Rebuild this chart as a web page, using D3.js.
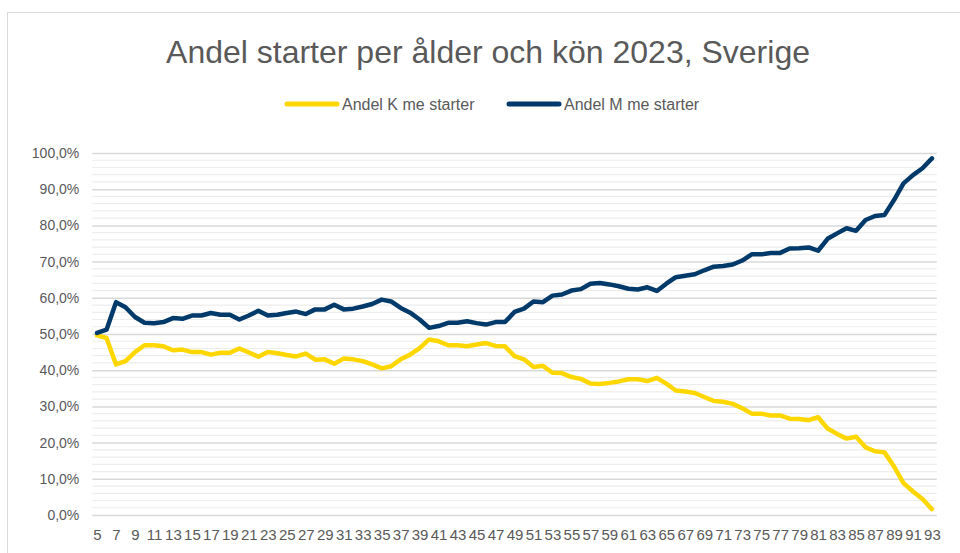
<!DOCTYPE html>
<html>
<head>
<meta charset="utf-8">
<script src="https://cdn.jsdelivr.net/npm/d3@7"></script>
<style>
  html, body { margin: 0; padding: 0; background: #fff; }
  svg { display: block; font-family: "Liberation Sans", Arial, sans-serif; }
</style>
</head>
<body>
<svg id="chart" width="960" height="553"></svg>
<script>
// ---- Data ----
const ages = [5,6,7,8,9,10,11,12,13,14,15,16,17,18,19,20,21,22,23,24,25,26,27,28,29,30,31,32,33,34,35,36,37,38,39,40,41,42,43,44,45,46,47,48,49,50,51,52,53,54,55,56,57,58,59,60,61,62,63,64,65,66,67,68,69,70,71,72,73,74,75,76,77,78,79,80,81,82,83,84,85,86,87,88,89,90,91,92,93];

const andelK = [49.6,48.9,41.6,42.5,45.0,46.9,46.9,46.6,45.5,45.7,45.0,45.0,44.3,44.8,44.8,46.0,44.9,43.7,45.0,44.7,44.2,43.8,44.6,42.9,43.0,41.8,43.2,43.0,42.5,41.6,40.5,41.1,43.0,44.3,46.1,48.5,48.0,46.9,46.9,46.6,47.1,47.5,46.7,46.6,43.9,43.0,40.9,41.2,39.3,39.2,38.1,37.6,36.3,36.2,36.5,36.9,37.5,37.5,37.0,37.9,36.3,34.4,34.1,33.7,32.6,31.5,31.3,30.7,29.5,28.0,28.0,27.5,27.5,26.6,26.5,26.2,27.0,23.9,22.4,21.1,21.6,18.7,17.6,17.3,13.4,8.8,6.5,4.4,1.6];

const andelM = [50.3,51.2,58.8,57.4,54.7,53.1,53.0,53.3,54.4,54.2,55.1,55.1,55.8,55.3,55.3,54.0,55.1,56.4,55.1,55.3,55.8,56.2,55.5,56.8,56.8,58.1,56.8,57.0,57.6,58.3,59.5,59.0,57.2,55.9,54.0,51.7,52.2,53.1,53.1,53.5,53.0,52.6,53.3,53.3,56.1,57.0,59.0,58.8,60.6,60.9,62.0,62.4,63.9,64.1,63.7,63.2,62.5,62.3,62.9,61.9,63.9,65.7,66.1,66.5,67.6,68.6,68.8,69.2,70.3,72.0,72.0,72.4,72.4,73.6,73.7,73.9,73.0,76.3,77.8,79.2,78.5,81.5,82.6,82.9,87.0,91.6,93.9,95.8,98.5];

const seriesNames = ["Andel K me starter", "Andel M me starter"];
const seriesColors = ["#FFD700", "#003A6B"];

const yTicks = [0,10,20,30,40,50,60,70,80,90,100];
const xTickLabels = [5,7,9,11,13,15,17,19,21,23,25,27,29,31,33,35,37,39,41,43,45,47,49,51,53,55,57,59,61,63,65,67,69,71,73,75,77,79,81,83,85,87,89,91,93];

const titleText = "Andel starter per ålder och kön 2023, Sverige";

// ---- Layout ----
const svg = d3.select("#chart");
const plot = { left: 92.3, right: 936.7, top: 153, bottom: 515 };
const textColor = "#595959";

const x = d3.scalePoint().domain(ages).range([plot.left, plot.right]).padding(0.5);
const y = d3.scaleLinear().domain([0, 100]).range([plot.bottom, plot.top]);

const locale = d3.formatLocale({ decimal: ",", thousands: "\u00a0", grouping: [3], currency: ["", " kr"] });
const fmt = v => locale.format(".1f")(v) + "%";

// chart area border
svg.append("rect")
  .attr("x", 7.5).attr("y", 12.5)
  .attr("width", 970).attr("height", 560)
  .attr("fill", "#fff").attr("stroke", "#d9d9d9").attr("stroke-width", 1);

// title
svg.append("text")
  .attr("x", 488).attr("y", 63)
  .attr("text-anchor", "middle")
  .attr("font-size", 32)
  .attr("fill", textColor)
  .text(titleText);

// legend
const legendItems = [
  { name: seriesNames[0], color: seriesColors[0], x0: 285 },
  { name: seriesNames[1], color: seriesColors[1], x0: 507 }
];
const lg = svg.append("g");
legendItems.forEach(it => {
  lg.append("line")
    .attr("x1", it.x0 + 2).attr("x2", it.x0 + 52)
    .attr("y1", 104).attr("y2", 104)
    .attr("stroke", it.color).attr("stroke-width", 5)
    .attr("stroke-linecap", "round");
  lg.append("text")
    .attr("x", it.x0 + 57).attr("y", 109.5)
    .attr("font-size", 16)
    .attr("fill", textColor)
    .text(it.name);
});

// minor gridlines (every 2%)
const minor = d3.range(0, 101, 2).filter(v => v % 10 !== 0);
svg.append("g").selectAll("line").data(minor).join("line")
  .attr("x1", plot.left).attr("x2", plot.right)
  .attr("y1", d => y(d)).attr("y2", d => y(d))
  .attr("stroke", "#ededed").attr("stroke-width", 1.2);

// major gridlines + y axis labels
const yAxis = d3.axisLeft(y).tickValues(yTicks).tickFormat(fmt)
  .tickSize(-(plot.right - plot.left)).tickPadding(13);
const yg = svg.append("g").attr("transform", `translate(${plot.left},0)`).call(yAxis);
yg.select(".domain").remove();
yg.selectAll(".tick line").attr("stroke", "#d9d9d9").attr("stroke-width", 1.5);
yg.selectAll(".tick text")
  .attr("font-size", 14)
  .attr("fill", textColor)
  .attr("font-family", "\"Liberation Sans\", Arial, sans-serif");

// x axis labels
const xAxis = d3.axisBottom(x).tickValues(xTickLabels).tickSize(0).tickPadding(14);
const xg = svg.append("g").attr("transform", `translate(0,${plot.bottom})`).call(xAxis);
xg.select(".domain").remove();
xg.selectAll(".tick text")
  .attr("font-size", 15)
  .attr("fill", textColor)
  .attr("font-family", "\"Liberation Sans\", Arial, sans-serif");

// lines
const line = d3.line().x((d, i) => x(ages[i])).y(d => y(d));
[andelK, andelM].forEach((vals, i) => {
  svg.append("path")
    .datum(vals)
    .attr("d", line)
    .attr("fill", "none")
    .attr("stroke", seriesColors[i])
    .attr("stroke-width", 4.5)
    .attr("stroke-linejoin", "round")
    .attr("stroke-linecap", "round");
});
</script>
</body>
</html>
